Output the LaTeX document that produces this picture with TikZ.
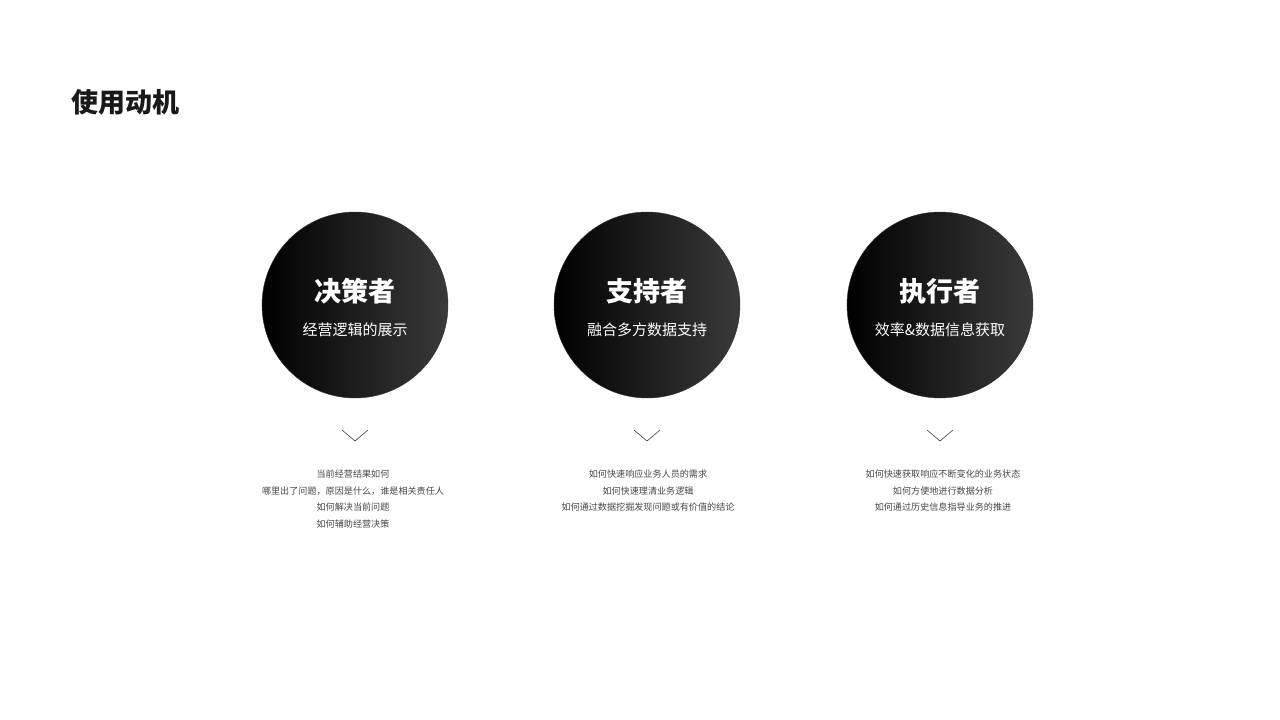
\documentclass[tikz,border=0pt]{standalone}
\usepackage{fontspec}
\setmainfont{Noto Sans CJK SC}
\usepackage{tikz}
\usetikzlibrary{positioning}
\usetikzlibrary{calc}
\definecolor{darkend}{RGB}{58,58,58}
\definecolor{notegray}{RGB}{70,70,70}
\tikzset{
    role/.style={circle, minimum size=186pt, inner sep=0pt, draw=black!80, line width=0.4pt,
        left color=black, right color=darkend, shading angle=90},
    roletitle/.style={text=white, font=\fontsize{27}{27}\selectfont\bfseries},
    rolesub/.style={text=white, font=\fontsize{15}{15}\selectfont},
    note/.style={text=notegray, font=\fontsize{9.1}{16.6}\selectfont, align=center, anchor=north}
}
\begin{document}
\begin{tikzpicture}[x=1pt, y=-1pt]
        \useasboundingbox (0,0) rectangle (1280,720);
        \node [anchor=west, font=\fontsize{27}{27}\selectfont\bfseries, text=black!90] (title) at (68,102) {使用动机};
        \foreach \k/\x/\head/\sub in {1/355/决策者/经营逻辑的展示, 2/647/支持者/融合多方数据支持, 3/940/执行者/效率\&数据信息获取}{
            \node [role] (c\k) at (\x,305) {};
            \node [roletitle] (t\k) at (\x,291) {\head};
            \node [rolesub] (s\k) at (\x,330) {\sub};
            \draw [black!75, line width=0.6pt] ($(c\k)+(-13,125)$) -- ($(c\k)+(0,136)$) -- ($(c\k)+(13,125)$);
        }
        \node [note] (n1) at (353,466.5) {当前经营结果如何\\哪里出了问题，原因是什么，谁是相关责任人\\如何解决当前问题\\如何辅助经营决策};
        \node [note] (n2) at (648,466.5) {如何快速响应业务人员的需求\\如何快速理清业务逻辑\\如何通过数据挖掘发现问题或有价值的结论};
        \node [note] (n3) at (943,466.5) {如何快速获取响应不断变化的业务状态\\如何方便地进行数据分析\\如何通过历史信息指导业务的推进};
    \end{tikzpicture}
\end{document}
